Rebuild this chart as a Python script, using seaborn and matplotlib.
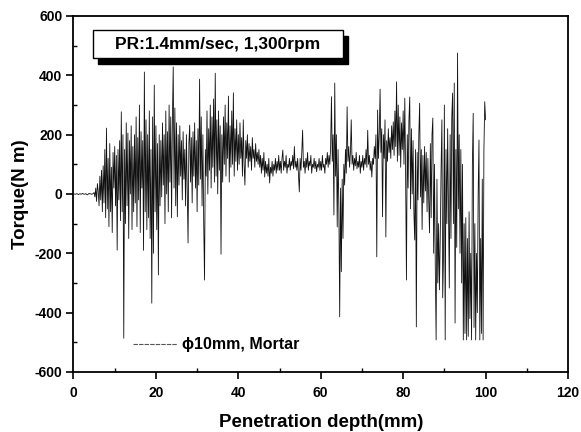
import numpy as np
import pandas as pd
import matplotlib
matplotlib.use("Agg")
import matplotlib.pyplot as plt
from matplotlib.patches import Rectangle
from matplotlib.ticker import MultipleLocator
import seaborn as sns

# ---------------- data ----------------
# depth grid: 0.0 .. 100.0 mm in 0.2 mm steps
depth = np.round(np.arange(0, 100.01, 0.2), 1)

torque_0_5 = [0, 0, -1, 0, 1, 0, -2, 0, 1, -1, 0, 2, 0, -1, 0, 1, -2, -3, 0, 2, 0, 1, -1, 0, 2]
torque_5_10 = [5, -10, 20, -25, 35, 10, -40, 60, -20, 80, -60, 95, -30, 150, -80, 222, -50, 120, -110, 170,
               -60, 90, -130, 140, 20]
torque_10_15 = [160, -40, 130, -189, 150, -20, 180, -90, 277, -60, 200, -486, 150, -100, 240, -40, 205, -150,
                180, 0, 230, -120, 160, -60, 200]
torque_15_20 = [-30, 260, -110, 190, -20, 300, -130, 210, 20, 180, -190, 411, -60, 250, -120, 200, -80, 280,
                -150, 150, -368, 260, -200, 367, -60]
torque_20_25 = [230, -120, 170, -273, 200, -40, 180, -10, 240, 30, 200, -100, 280, 0, 210, -60, 300, 40, 260,
                -80, 250, 428, 20, 290, -40]
torque_25_30 = [240, -77, 200, 30, 230, 60, 180, -20, 210, 50, 150, -40, 200, 20, -165, 170, 232, 40, 190,
                -30, 210, 60, 240, 20, 180]
torque_30_35 = [-60, 220, 30, 387, 50, 260, -40, 200, -100, -290, 150, 60, 280, 0, 220, 80, 300, 20, 260, 90,
                320, 40, 407, 60, 250]
torque_35_40 = [0, 280, 80, 230, -203, 200, 40, 260, 100, 300, 60, 240, 120, 330, 40, 230, 90, 280, 100, 341,
                60, 220, 110, 250, 80]
torque_40_45 = [200, 100, 240, 120, 190, 60, 250, 100, 30, 180, 120, 200, 90, 170, 110, 160, 80, 190, 120,
                150, 90, 170, 110, 140, 100]
torque_45_50 = [150, 90, 130, 70, 120, 80, 140, 57, 110, 70, 100, 60, 120, 37, 90, 70, 110, 60, 100, 80, 120,
                70, 110, 80, 130]
torque_50_55 = [80, 110, 70, 120, 148, 80, 110, 90, 130, 70, 100, 90, 120, 80, 110, 95, 130, 85, 160, 90,
                110, 80, 120, 60, 7]
torque_55_60 = [120, 80, 140, 215, 90, 110, 70, 120, 90, 140, 80, 110, 95, 130, 70, 100, 90, 120, 85, 110,
                75, 100, 90, 120, 80]
torque_60_65 = [110, 80, 130, 90, 100, 70, 120, 100, 140, 90, 130, 100, 160, 328, 110, 200, -71, 374, 60,
                200, -111, 150, -50, -414, 20]
torque_65_70 = [-262, 50, -150, 100, 30, 150, 70, 294, 110, 160, 90, 140, 250, 100, 130, 80, 120, 95, 140,
                85, 110, 90, 130, 70, 110]
torque_70_75 = [90, 130, 80, 120, 100, 150, 90, 215, 100, 130, 80, 110, 57, 120, 100, 160, 120, 200, -212,
                283, 120, 200, 353, 140, 220]
torque_75_80 = [-77, 200, 120, 250, -145, 180, 110, 220, 140, 190, 120, 230, 150, 243, 130, 280, 160, 378,
                110, 300, 130, 260, 90, 240, 150]
torque_80_85 = [280, 100, 323, 60, -290, 200, 20, 250, 327, -50, 220, 0, 180, -60, -155, 150, -448, 140, -20,
                200, 306, -10, 150, -120, 130]
torque_85_90 = [-30, 160, 10, 140, -60, 120, -20, -131, 170, -80, 200, 256, -200, 100, -250, -492, 50, -300,
                -100, -323, -150, 80, 250, -350, -200]
torque_90_95 = [300, -492, 150, -100, 220, -50, -317, 200, -150, 260, 340, -100, 374, -435, 150, -180, 475,
                -50, 200, -200, 150, -300, 100, -492, -100]
torque_95_100 = [-470, -80, -492, -150, -480, -60, -420, -200, -492, 100, 272, -450, -100, -492, -200, -400,
                 0, 182, -492, -150, -470, 50, -492, 150, 311]
torque_end = [250]

torque = (torque_0_5 + torque_5_10 + torque_10_15 + torque_15_20 + torque_20_25 + torque_25_30 +
          torque_30_35 + torque_35_40 + torque_40_45 + torque_45_50 + torque_50_55 + torque_55_60 +
          torque_60_65 + torque_65_70 + torque_70_75 + torque_75_80 + torque_80_85 + torque_85_90 +
          torque_90_95 + torque_95_100 + torque_end)

x_ticks = [0, 20, 40, 60, 80, 100, 120]
y_ticks = [-600, -400, -200, 0, 200, 400, 600]
title_text = "PR:1.4mm/sec, 1,300rpm"
legend_text = "\u03d510mm, Mortar"
x_label = "Penetration depth(mm)"
y_label = "Torque(N m)"

df = pd.DataFrame({"depth": depth, "torque": torque})

# ---------------- style ----------------
sns.set_style("ticks")
plt.rcParams["font.family"] = ["Liberation Sans", "DejaVu Sans"]
plt.rcParams["font.weight"] = "bold"
plt.rcParams["axes.unicode_minus"] = False
plt.rcParams["text.color"] = "black"
plt.rcParams["axes.labelcolor"] = "black"
plt.rcParams["xtick.color"] = "black"
plt.rcParams["ytick.color"] = "black"

fig = plt.figure(figsize=(5.81, 4.32), dpi=100)
ax = fig.add_axes([0.1265, 0.1389, 0.8511, 0.8241])

sns.lineplot(data=df, x="depth", y="torque", ax=ax, estimator=None, sort=False,
             color="#111111", linewidth=0.6)

ax.set_xlim(0, 120)
ax.set_ylim(-600, 600)
ax.set_xticks(x_ticks)
ax.set_yticks(y_ticks)
ax.xaxis.set_minor_locator(MultipleLocator(10))
ax.yaxis.set_minor_locator(MultipleLocator(100))
ax.tick_params(axis="both", which="major", direction="out", length=5, width=1.2,
               labelsize=10, colors="black", labelcolor="black")
ax.tick_params(axis="x", which="major", pad=5)
ax.tick_params(axis="y", which="major", pad=3)
ax.tick_params(axis="both", which="minor", direction="in", length=3, width=1.0, colors="black")
for lbl in ax.get_xticklabels() + ax.get_yticklabels():
    lbl.set_fontweight("bold")
for sp in ax.spines.values():
    sp.set_visible(True)
    sp.set_linewidth(1.3)
    sp.set_color("black")

ax.set_xlabel(x_label, fontsize=13.5, fontweight="bold", labelpad=10, color="black")
ax.set_ylabel(y_label, fontsize=13.5, fontweight="bold", labelpad=4, color="black")

# title box with drop shadow (figure pixel coords)
W, H = 581, 432
bx0, by0, bx1, by1 = 93, 30, 343, 58
fig.patches.append(Rectangle(((bx0 + 5) / W, 1 - (by1 + 6) / H), (bx1 - bx0) / W, (by1 - by0) / H,
                             transform=fig.transFigure, facecolor="black", edgecolor="black",
                             zorder=5))
fig.patches.append(Rectangle((bx0 / W, 1 - by1 / H), (bx1 - bx0) / W, (by1 - by0) / H,
                             transform=fig.transFigure, facecolor="white", edgecolor="black",
                             linewidth=1.0, zorder=6))
fig.text((bx0 + bx1) / 2 / W, 1 - 44 / H, title_text, ha="center", va="center",
         fontsize=12.5, fontweight="bold", color="black", zorder=7)

# legend entry
fig.add_artist(plt.Line2D([133 / W, 177 / W], [1 - 344 / H, 1 - 344 / H],
                          transform=fig.transFigure, color="#555555", linewidth=0.8,
                          linestyle=(0, (4, 1))))
fig.text(182 / W, 1 - 344 / H, legend_text, ha="left", va="center", color="black",
         fontsize=11.5, fontweight="bold", family=["Liberation Sans", "DejaVu Sans"])

fig.savefig("out.png", dpi=100)
